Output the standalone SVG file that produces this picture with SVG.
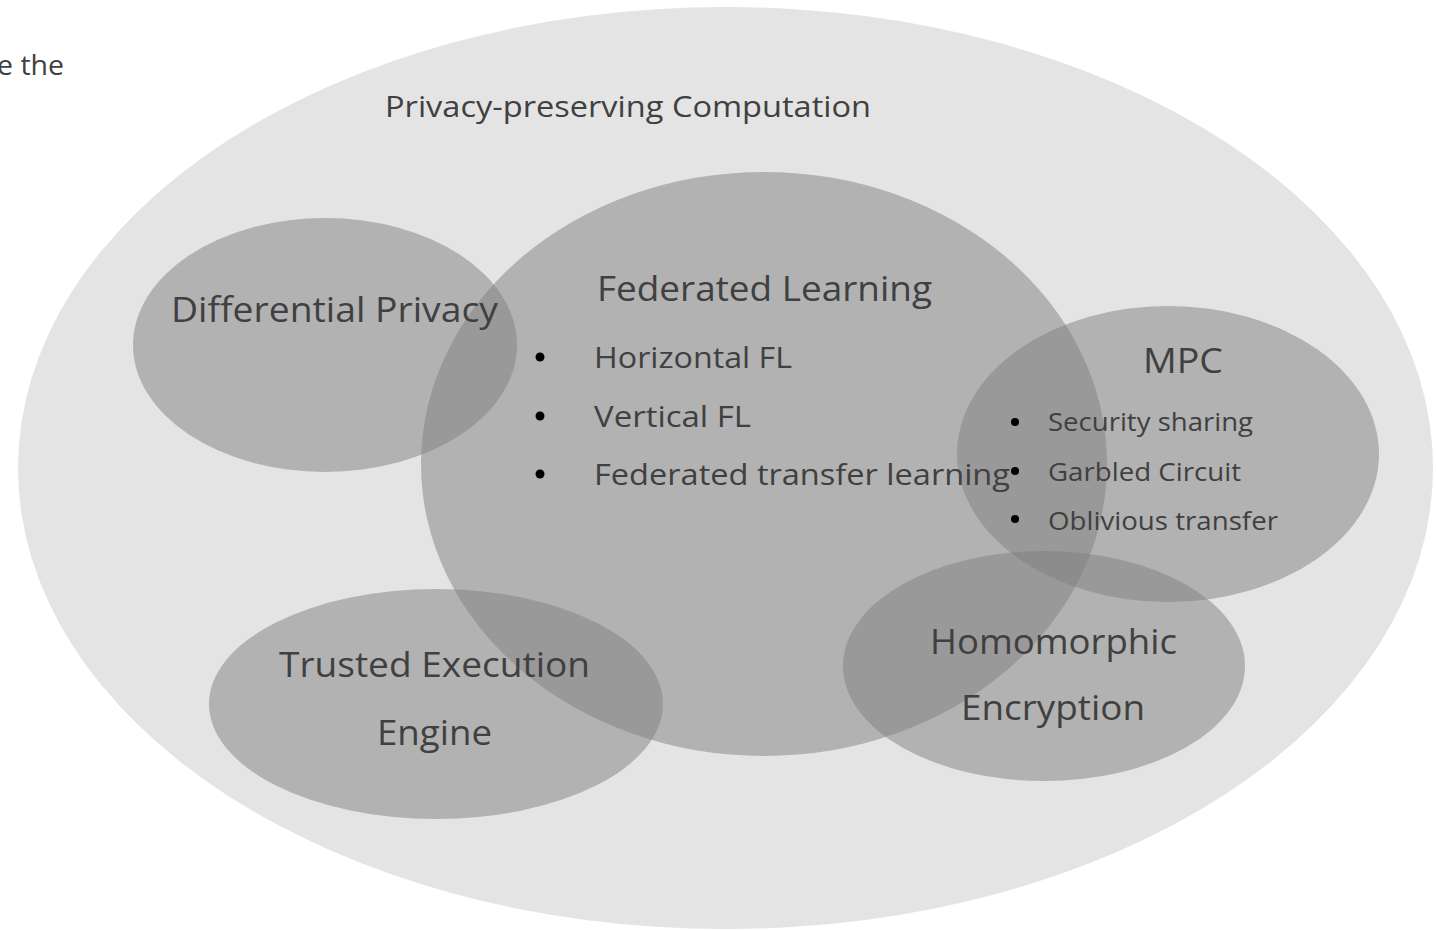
<svg xmlns="http://www.w3.org/2000/svg" width="1436" height="930" viewBox="0 0 1436 930">
<style>
text{font-family:"Open Sans","Liberation Sans",sans-serif;fill:#404040}
.t{font-size:35px}
.b{font-size:30px}
.s{font-size:26px}
.dot{fill:#000}
.c{fill:#7f7f7f;fill-opacity:0.5}
</style>
<rect x="0" y="0" width="1436" height="930" fill="#ffffff"/>
<text x="-3" y="75" style="font-size:28px" textLength="67" lengthAdjust="spacingAndGlyphs">e the</text>
<g id="outer">
<ellipse cx="725.5" cy="468" rx="707.5" ry="461" fill="#e4e4e4"/>
<text x="385" y="117" style="font-size:29px" textLength="486" lengthAdjust="spacingAndGlyphs">Privacy-preserving Computation</text>
</g>
<g id="dp"><ellipse class="c" cx="325" cy="345" rx="192" ry="127"/></g>
<g id="fl"><ellipse class="c" cx="764" cy="464" rx="343" ry="292"/></g>
<g id="mpc"><ellipse class="c" cx="1168" cy="454" rx="211" ry="148"/></g>
<g id="he"><ellipse class="c" cx="1044" cy="666" rx="201" ry="115"/></g>
<g id="tee"><ellipse class="c" cx="436" cy="704" rx="227" ry="115"/></g>
<g id="labels">
<text class="t" x="171" y="322" textLength="327" lengthAdjust="spacingAndGlyphs">Differential Privacy</text>
<text class="t" x="597" y="301" textLength="335" lengthAdjust="spacingAndGlyphs">Federated Learning</text>
<circle class="dot" cx="540" cy="357" r="4.5"/>
<circle class="dot" cx="540" cy="416" r="4.5"/>
<circle class="dot" cx="540" cy="474" r="4.5"/>
<text class="b" x="594" y="368" textLength="198" lengthAdjust="spacingAndGlyphs">Horizontal FL</text>
<text class="b" x="594" y="427" textLength="157" lengthAdjust="spacingAndGlyphs">Vertical FL</text>
<text class="b" x="594" y="485" textLength="416" lengthAdjust="spacingAndGlyphs">Federated transfer learning</text>
<text class="t" x="1143" y="373" textLength="80" lengthAdjust="spacingAndGlyphs">MPC</text>
<circle class="dot" cx="1015" cy="422" r="4"/>
<circle class="dot" cx="1015" cy="471" r="4"/>
<circle class="dot" cx="1015" cy="519" r="4"/>
<text class="s" x="1048" y="431" textLength="205" lengthAdjust="spacingAndGlyphs">Security sharing</text>
<text class="s" x="1048" y="481" textLength="193" lengthAdjust="spacingAndGlyphs">Garbled Circuit</text>
<text class="s" x="1048" y="530" textLength="230" lengthAdjust="spacingAndGlyphs">Oblivious transfer</text>
<text class="t" x="930" y="654" textLength="247" lengthAdjust="spacingAndGlyphs">Homomorphic</text>
<text class="t" x="961" y="720" textLength="184" lengthAdjust="spacingAndGlyphs">Encryption</text>
<text class="t" x="279" y="677" textLength="311" lengthAdjust="spacingAndGlyphs">Trusted Execution</text>
<text class="t" x="377" y="745" textLength="115" lengthAdjust="spacingAndGlyphs">Engine</text>
</g>
<g id="connectors"></g>
</svg>
